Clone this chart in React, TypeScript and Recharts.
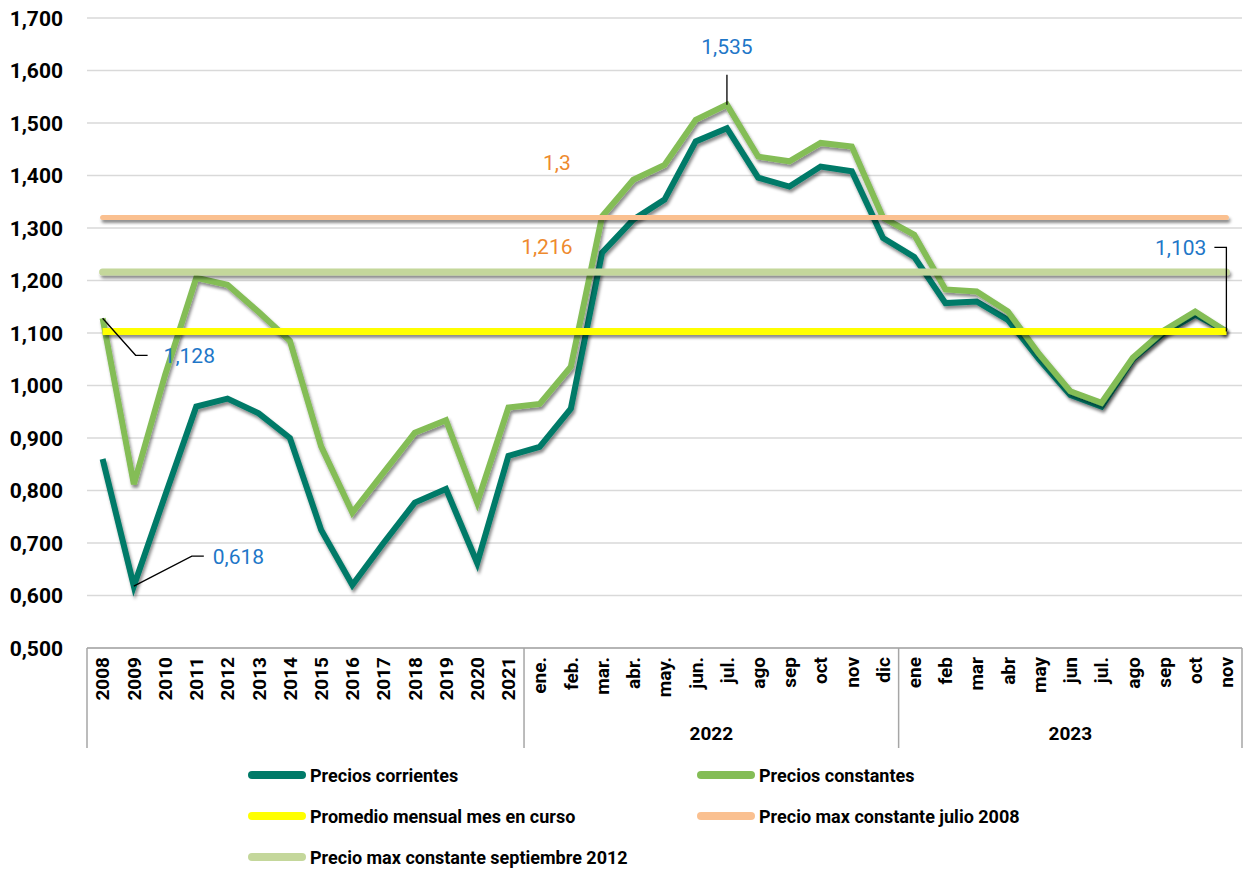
import React from 'react';
import { LineChart, Line, XAxis, YAxis, CartesianGrid } from 'recharts';

// period labels (x axis), grouped by year for the bottom band
const periodLabels = [
  '2008', '2009', '2010', '2011', '2012', '2013', '2014', '2015', '2016', '2017', '2018', '2019', '2020', '2021',
  'ene.', 'feb.', 'mar.', 'abr.', 'may.', 'jun.', 'jul.', 'ago', 'sep', 'oct', 'nov', 'dic',
  'ene', 'feb', 'mar', 'abr', 'may', 'jun', 'jul.', 'ago', 'sep', 'oct', 'nov',
];
const yearGroups = [
  { label: '2022', first: 14, last: 25 },
  { label: '2023', first: 26, last: 36 },
];

const preciosCorrientes = [
  0.86, 0.618, 0.79, 0.96, 0.975, 0.947, 0.9, 0.725, 0.62, 0.7, 0.777, 0.803, 0.662, 0.866,
  0.883, 0.956, 1.253, 1.316, 1.354, 1.465, 1.49, 1.396, 1.379, 1.417, 1.408, 1.281,
  1.245, 1.157, 1.16, 1.125, 1.05, 0.982, 0.96, 1.05, 1.1, 1.135, 1.103,
];
const preciosConstantes = [
  1.128, 0.812, 1.02, 1.205, 1.192, 1.14, 1.085, 0.884, 0.758, 0.834, 0.91, 0.934, 0.777, 0.958,
  0.965, 1.036, 1.322, 1.392, 1.42, 1.506, 1.535, 1.436, 1.427, 1.462, 1.455, 1.32,
  1.287, 1.183, 1.179, 1.141, 1.06, 0.989, 0.967, 1.053, 1.105, 1.141, 1.103,
];
const promedioMensual = 1.103;
const maxJulio2008 = 1.32;
const maxSeptiembre2012 = 1.216;

const yTicks = [0.5, 0.6, 0.7, 0.8, 0.9, 1.0, 1.1, 1.2, 1.3, 1.4, 1.5, 1.6, 1.7];

const data = periodLabels.map((label, i) => ({
  id: i,
  label,
  corrientes: preciosCorrientes[i],
  constantes: preciosConstantes[i],
  promedio: promedioMensual,
  julio2008: maxJulio2008,
  sept2012: maxSeptiembre2012,
}));

const C_CORR = '#007A68';
const C_CONST = '#84BD56';
const C_PROM = '#FFFF00';
const C_JUL = '#FAC090';
const C_SEP = '#C4D79B';
const C_LABEL = '#1F77C8';
const C_ORANGE = '#EE8A2E';

const W = 1246;
const H = 750;
const PLOT_LEFT = 87;
const PLOT_RIGHT = 4;
const PLOT_BOTTOM = 648;
const STEP = (W - PLOT_LEFT - PLOT_RIGHT) / periodLabels.length;
const FONT = 'Roboto, "Liberation Sans", sans-serif';

const fmt = (v: number, d = 3) => v.toFixed(d).replace('.', ',');

const YTick = (props: any) => {
  const { y, payload } = props;
  return (
    <text x={63} y={y} dy="0.36em" textAnchor="end" fontFamily={FONT} fontWeight={700} fontSize={21} fill="#000">
      {fmt(payload.value)}
    </text>
  );
};

const XTick = (props: any) => {
  const { x, payload } = props;
  const i: number = payload.index;
  const top = PLOT_BOTTOM;
  const bottom = PLOT_BOTTOM + 100;
  const seps: number[] = [];
  if (i === 0) seps.push(x - STEP / 2);
  if (i === 13 || i === 25 || i === 36) seps.push(x + STEP / 2);
  const group = yearGroups.find((g) => Math.floor((g.first + g.last) / 2) === i);
  let groupX = x;
  if (group && (group.last - group.first) % 2 === 1) groupX = x + STEP / 2;
  return (
    <g>
      {seps.map((sx) => (
        <line key={sx} x1={sx} x2={sx} y1={top} y2={bottom} stroke="#A6A6A6" strokeWidth={1.5} />
      ))}
      <text
        x={x}
        y={top + 9}
        dy="0.36em"
        transform={`rotate(-90 ${x} ${top + 9})`}
        textAnchor="end"
        fontFamily={FONT}
        fontWeight={700}
        fontSize={19}
        fill="#000"
      >
        {periodLabels[i]}
      </text>
      {group && (
        <text x={groupX} y={top + 85} dy="0.36em" textAnchor="middle" fontFamily={FONT} fontWeight={700} fontSize={19} fill="#000">
          {group.label}
        </text>
      )}
    </g>
  );
};

// annotation callouts attached to specific points
const blueText = { fontFamily: FONT, fontSize: 21, fill: C_LABEL } as const;

const constLabel = (props: any) => {
  const { x, y, index } = props;
  if (index === 0) {
    return (
      <g>
        <polyline points={`${x},${y} ${x + 33},${y + 37} ${x + 45},${y + 37}`} fill="none" stroke="#000" strokeWidth={1.3} />
        <text x={x + 61} y={y + 37} dy="0.36em" {...blueText}>{fmt(preciosConstantes[0])}</text>
      </g>
    );
  }
  if (index === 20) {
    return (
      <g>
        <line x1={x} x2={x} y1={y} y2={y - 30} stroke="#000" strokeWidth={1.3} />
        <text x={x} y={y - 58} dy="0.36em" textAnchor="middle" {...blueText}>{fmt(preciosConstantes[20])}</text>
      </g>
    );
  }
  if (index === 36) {
    return (
      <g>
        <polyline points={`${x},${y} ${x},${y - 84} ${x - 12},${y - 84}`} fill="none" stroke="#000" strokeWidth={1.3} />
        <text x={x - 20} y={y - 84} dy="0.36em" textAnchor="end" {...blueText}>{fmt(preciosConstantes[36])}</text>
      </g>
    );
  }
  return <g />;
};

const corrLabel = (props: any) => {
  const { x, y, index } = props;
  if (index === 1) {
    return (
      <g>
        <polyline points={`${x},${y} ${x + 58},${y - 30} ${x + 70},${y - 30}`} fill="none" stroke="#000" strokeWidth={1.3} />
        <text x={x + 79} y={y - 30} dy="0.36em" {...blueText}>{fmt(preciosCorrientes[1])}</text>
      </g>
    );
  }
  return <g />;
};

const julLabel = (props: any) => {
  const { x, y, index } = props;
  if (index !== 15) return <g />;
  return (
    <text x={x - 14} y={y - 55} dy="0.36em" textAnchor="middle" fontFamily={FONT} fontSize={21} fill={C_ORANGE}>
      1,3
    </text>
  );
};

const sepLabel = (props: any) => {
  const { x, y, index } = props;
  if (index !== 15) return <g />;
  return (
    <text x={x - 24} y={y - 26} dy="0.36em" textAnchor="middle" fontFamily={FONT} fontSize={21} fill={C_ORANGE}>
      {fmt(maxSeptiembre2012)}
    </text>
  );
};

const legendItems = [
  { name: 'Precios corrientes', color: C_CORR },
  { name: 'Precios constantes', color: C_CONST },
  { name: 'Promedio mensual mes en curso', color: C_PROM },
  { name: 'Precio max constante julio 2008', color: C_JUL },
  { name: 'Precio max constante septiembre 2012', color: C_SEP },
];

const App = () => {
  return (
    <div style={{ position: 'absolute', left: 0, top: 0, width: 1246, height: 872, background: '#fff' }}>
      <style>{`.shadowed .recharts-line-curve { filter: url(#dropShadow); }`}</style>
      <LineChart width={W} height={H} data={data} margin={{ top: 18, right: PLOT_RIGHT, left: 0, bottom: 2 }}>
        <defs>
          <filter id="dropShadow" filterUnits="userSpaceOnUse" x={0} y={0} width={W} height={H}>
            <feDropShadow dx="1.5" dy="3" stdDeviation="1.5" floodColor="#000" floodOpacity="0.45" />
          </filter>
        </defs>
        <CartesianGrid vertical={false} stroke="#D9D9D9" strokeWidth={1.5} />
        <XAxis
          dataKey="id"
          type="category"
          interval={0}
          height={100}
          padding={{ left: STEP / 2, right: STEP / 2 }}
          tickLine={false}
          axisLine={{ stroke: '#A6A6A6', strokeWidth: 1.5 }}
          tick={<XTick />}
        />
        <YAxis
          domain={[0.5, 1.7]}
          ticks={yTicks}
          width={PLOT_LEFT}
          axisLine={false}
          tickLine={false}
          tick={<YTick />}
        />
        <Line className="shadowed" dataKey="corrientes" stroke={C_CORR} strokeWidth={6} dot={false} isAnimationActive={false} label={corrLabel} />
        <Line className="shadowed" dataKey="constantes" stroke={C_CONST} strokeWidth={6} dot={false} isAnimationActive={false} label={constLabel} />
        <Line className="shadowed" dataKey="promedio" stroke={C_PROM} strokeWidth={7} dot={false} isAnimationActive={false} />
        <Line className="shadowed" dataKey="julio2008" stroke={C_JUL} strokeWidth={5} strokeLinecap="round" dot={false} isAnimationActive={false} label={julLabel} />
        <Line className="shadowed" dataKey="sept2012" stroke={C_SEP} strokeWidth={7} strokeLinecap="round" dot={false} isAnimationActive={false} label={sepLabel} />
      </LineChart>
      <div style={{ position: 'absolute', left: 248, top: 760, width: 900, display: 'grid', gridTemplateColumns: '449px 400px', rowGap: 11 }}>
        {legendItems.map((it) => (
          <div key={it.name} style={{ display: 'flex', alignItems: 'center', height: 30 }}>
            <span style={{ display: 'inline-block', width: 58, height: 8, borderRadius: 4, background: it.color, marginRight: 4 }} />
            <span style={{ fontFamily: FONT, fontWeight: 700, fontSize: 18, color: '#000' }}>{it.name}</span>
          </div>
        ))}
      </div>
    </div>
  );
};

export default App;
